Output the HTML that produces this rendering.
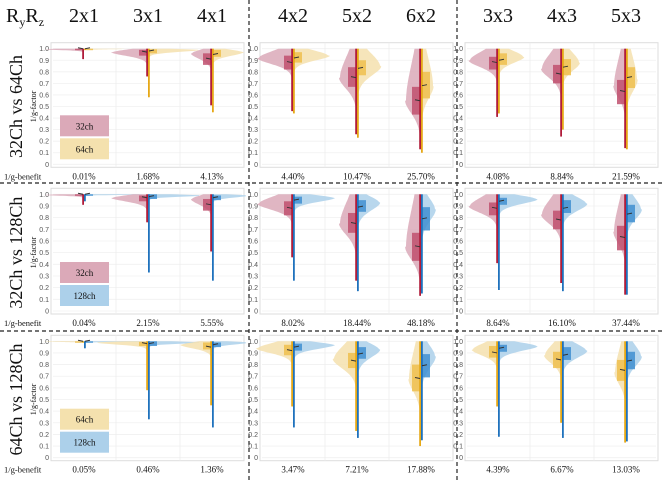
<!DOCTYPE html>
<html><head><meta charset="utf-8">
<style>
html,body{margin:0;padding:0;background:#fff;}
svg{display:block;}
</style></head>
<body>
<svg id="fig" width="664" height="480" xmlns="http://www.w3.org/2000/svg" font-family="'Liberation Serif', serif">
</svg>
<script>
// ---- data ----
const configs = ["2x1","3x1","4x1","4x2","5x2","6x2","3x3","4x3","5x3"];
// 32ch
const ch32_mode = [0.995,0.97,0.96,0.92,0.75,0.55,0.90,0.83,0.68];
const ch32_width= [38,35,20,34,17,15,28,20,12];
const ch32_sd   = [0.01,0.045,0.07,0.075,0.14,0.16,0.085,0.12,0.15];
const ch32_lo   = [0.91,0.76,0.51,0.46,0.26,0.13,0.41,0.24,0.14];
const ch32_q1   = [0.99,0.94,0.86,0.82,0.67,0.43,0.82,0.70,0.52];
const ch32_med  = [1.0,0.97,0.91,0.88,0.75,0.55,0.88,0.78,0.63];
const ch32_q3   = [1.0,0.99,0.96,0.94,0.84,0.67,0.93,0.86,0.73];
// 64ch
const ch64_mode = [0.998,0.99,0.97,0.94,0.85,0.68,0.93,0.88,0.73];
const ch64_width= [38,50,30,35,23,12,25,17,11];
const ch64_sd   = [0.005,0.025,0.045,0.06,0.12,0.16,0.075,0.1,0.14];
const ch64_lo   = [0.99,0.58,0.45,0.44,0.23,0.10,0.44,0.30,0.13];
const ch64_q1   = [0.995,0.96,0.93,0.88,0.77,0.57,0.86,0.77,0.66];
const ch64_med  = [1.0,0.98,0.95,0.92,0.83,0.68,0.90,0.84,0.75];
const ch64_q3   = [1.0,0.995,0.99,0.97,0.90,0.80,0.96,0.91,0.84];
// 128ch
const ch128_mode = [0.998,0.99,0.99,0.97,0.93,0.87,0.96,0.92,0.87];
const ch128_width= [60,55,35,40,22,14,38,24,15];
const ch128_sd   = [0.005,0.015,0.025,0.05,0.1,0.14,0.06,0.09,0.12];
const ch128_lo   = [0.94,0.33,0.26,0.26,0.17,0.15,0.18,0.17,0.14];
const ch128_q1   = [0.99,0.96,0.95,0.92,0.85,0.69,0.91,0.84,0.76];
const ch128_med  = [1.0,0.98,0.97,0.95,0.89,0.79,0.94,0.88,0.83];
const ch128_q3   = [1.0,1.0,0.99,0.98,0.95,0.89,0.97,0.95,0.91];
// benefit labels
const benefit_row1 = ["0.01%","1.68%","4.13%","4.40%","10.47%","25.70%","4.08%","8.84%","21.59%"];
const benefit_row2 = ["0.04%","2.15%","5.55%","8.02%","18.44%","48.18%","8.64%","16.10%","37.44%"];
const benefit_row3 = ["0.05%","0.46%","1.36%","3.47%","7.21%","17.88%","4.39%","6.67%","13.03%"];
const yTicks = [0,0.1,0.2,0.3,0.4,0.5,0.6,0.7,0.8,0.9,1.0];
const yTickLabels = ["0","0.1","0.2","0.3","0.4","0.5","0.6","0.7","0.8","0.9","1.0"];

// ---- layout ----
const NS="http://www.w3.org/2000/svg";
const svg=document.getElementById('fig');
function mk(tag,attrs,parent){const e=document.createElementNS(NS,tag);for(const k in attrs)e.setAttribute(k,attrs[k]);(parent||svg).appendChild(e);return e;}
const panelLeft=[53,262,467], panelW=191;
const rowY1=[48.7,194.3,341.3], rowY0=[164.3,311,457.7];
const colors={
 c32:{fill:"#dba9b8",box:"#c0506e",line:"#b01c3a"},
 c64:{fill:"#f4e1ae",box:"#efbf4e",line:"#e6a817"},
 c128:{fill:"#acd0ea",box:"#3f8fd0",line:"#1f72bd"}
};
const data={
 c32:{mode:ch32_mode,w:ch32_width,sd:ch32_sd,lo:ch32_lo,q1:ch32_q1,med:ch32_med,q3:ch32_q3},
 c64:{mode:ch64_mode,w:ch64_width,sd:ch64_sd,lo:ch64_lo,q1:ch64_q1,med:ch64_med,q3:ch64_q3},
 c128:{mode:ch128_mode,w:ch128_width,sd:ch128_sd,lo:ch128_lo,q1:ch128_q1,med:ch128_med,q3:ch128_q3}
};
const rows=[
 {a:"c32",b:"c64",la:"32ch",lb:"64ch",title:"32Ch vs 64Ch",ben:benefit_row1},
 {a:"c32",b:"c128",la:"32ch",lb:"128ch",title:"32Ch vs 128Ch",ben:benefit_row2},
 {a:"c64",b:"c128",la:"64ch",lb:"128ch",title:"64Ch vs 128Ch",ben:benefit_row3}
];

let t=mk('text',{x:6,y:22,'font-size':20,fill:'#111'});


t.innerHTML='R<tspan font-size="12" dy="4">y</tspan><tspan dy="-4">R</tspan><tspan font-size="12" dy="4">z</tspan>';
configs.forEach((c,i)=>{
  const p=Math.floor(i/3),k=i%3;
  const cx=panelLeft[p]+31+64*k;
  const h=mk('text',{x:cx,y:22,'font-size':20,'text-anchor':'middle',fill:'#111'});
  
  
  h.textContent=c;
});
[249,457].forEach(x=>{const l=mk('line',{x1:x,y1:0,x2:x,y2:480,stroke:'#222','stroke-width':1.2,'stroke-dasharray':'4,3'});
 });
[183,331].forEach(y=>{const l=mk('line',{x1:0,y1:y,x2:664,y2:y,stroke:'#222','stroke-width':1.2,'stroke-dasharray':'4,3'});
 });

function violinSide(g,cx,ys,d,i,col,side){
  const mode=d.mode[i],lo=d.lo[i],W=d.w[i];
  const sb=d.sd[i], sa=Math.max((1-mode)*1.1,0.008);
  const pts=[];const N=90;
  for(let s=0;s<=N;s++){
    const y=lo+(1-lo)*s/N;
    const z=y<mode?(mode-y)/sb:(y-mode)/sa;
    const w=Math.max(W*Math.exp(-Math.pow(Math.abs(z),1.8))+(y<mode?W*0.06*Math.exp(-(mode-y)/(sb*3)):0),0.8);
    pts.push([cx+side*w,ys(y)]);
  }
  let dstr='M'+cx+','+ys(lo);
  pts.forEach(p=>dstr+=' L'+p[0].toFixed(1)+','+p[1].toFixed(1));
  dstr+=' L'+cx+','+ys(1)+' Z';
  const v=mk('path',{d:dstr,fill:col.fill,opacity:0.85},g);
  
  
  const bw=9;
  const b=mk('rect',{x:side<0?cx-bw:cx,y:ys(d.q3[i]),width:bw,height:Math.max(ys(d.q1[i])-ys(d.q3[i]),1.5),fill:col.box,opacity:0.85},g);
  
  
  const wl=mk('line',{x1:cx+side*0.9,y1:ys(lo),x2:cx+side*0.9,y2:ys(1),stroke:col.line,'stroke-width':1.8},g);
  
  
  const m=mk('line',{x1:cx+side*1,y1:ys(d.med[i]),x2:cx+side*6,y2:ys(d.med[i])-1,stroke:'#333','stroke-width':1},g);
  
  
}

rows.forEach((r,ri)=>{
  const y1=rowY1[ri],y0=rowY0[ri];
  const ys=v=>y0+(y1-y0)*v;
  const cy=(y1+y0)/2;
  const rt=mk('text',{x:0,y:0,'font-size':18,'text-anchor':'middle',fill:'#111',transform:`translate(22,${cy}) rotate(-90)`});
  
  
  rt.textContent=r.title;
  const yt=mk('text',{x:0,y:0,'font-size':8,'text-anchor':'middle',fill:'#111',transform:`translate(36,${cy}) rotate(-90)`});
  
  
  yt.textContent='1/g-factor';
  const bl=mk('text',{x:4,y:y0+15,'font-size':8.5,fill:'#111'});
  
  
  bl.textContent='1/g-benefit';
  for(let p=0;p<3;p++){
    const g=mk('g',{});
    
    
    const L=panelLeft[p];
    const frame=mk('rect',{x:L-2,y:y1-6,width:panelW+2,height:y0-y1+9,fill:'none',stroke:'#ddd','stroke-width':1},g);
    
    
    yTicks.forEach((v,ti)=>{
      const gl=mk('line',{x1:L,y1:ys(v),x2:L+panelW-2,y2:ys(v),stroke:'#f0f0f0','stroke-width':0.8},g);
      
      
      const tl=mk('text',{x:L-4,y:ys(v)+2.5,'font-size':7,'text-anchor':'end',fill:'#555','font-family':"'Liberation Sans',sans-serif"},g);
      
      
      tl.textContent=yTickLabels[ti];
    });
    [63,127].forEach(dx=>{
      const vg=mk('line',{x1:L+dx,y1:y1-6,x2:L+dx,y2:y0+3,stroke:'#eee','stroke-width':0.8},g);
      
    });
    for(let k=0;k<3;k++){
      const i=p*3+k;
      const cx=L+31+64*k;
      const vg=mk('g',{},g);
      
      
      violinSide(vg,cx,ys,data[r.a],i,colors[r.a],-1);
      violinSide(vg,cx,ys,data[r.b],i,colors[r.b],1);
      const bt=mk('text',{x:cx,y:y0+15,'font-size':9,'text-anchor':'middle',fill:'#111'},g);
      
      
      bt.textContent=r.ben[i];
    }
  }
  const lx=60,ly=y0-49;
  [[r.a,r.la,0],[r.b,r.lb,23]].forEach(([c,lab,off])=>{
    const lr=mk('rect',{x:lx,y:ly+off,width:49,height:21,fill:colors[c].fill});
    
    
    const lt=mk('text',{x:lx+24.5,y:ly+off+14,'font-size':9,'text-anchor':'middle',fill:'#111'});
    
    
    lt.textContent=lab;
  });
});
</script>
</body></html>
